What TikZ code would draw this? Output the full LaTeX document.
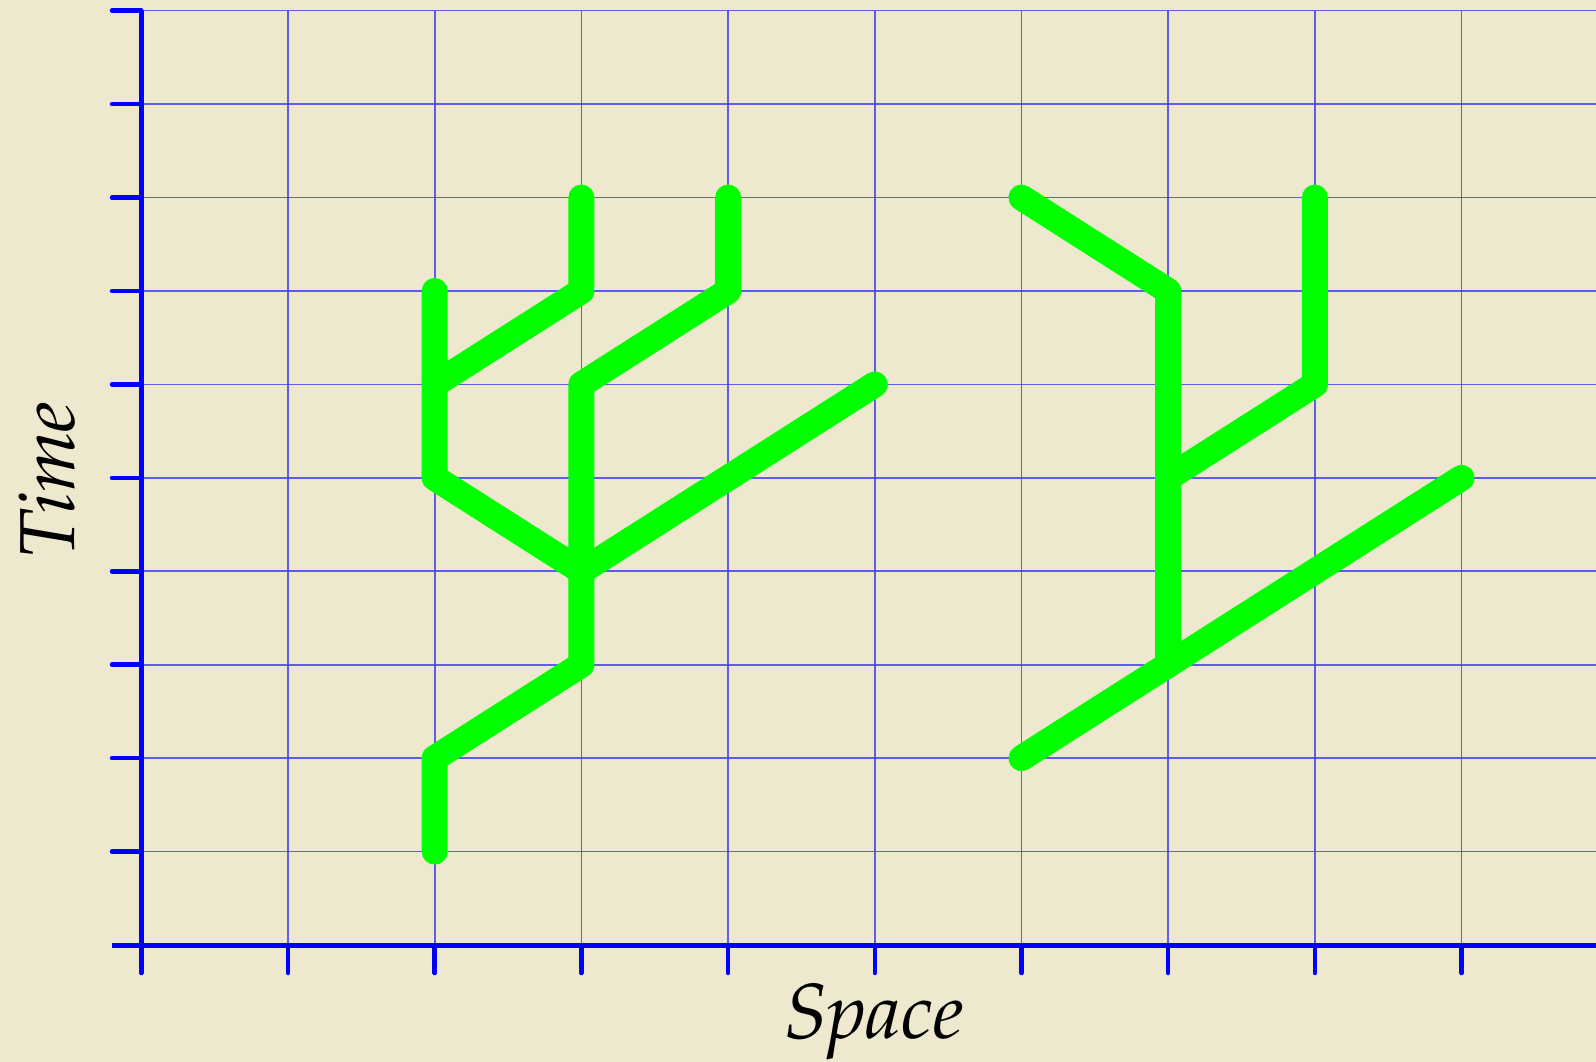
\documentclass[tikz,border=0pt]{standalone}
\usepackage[T1]{fontenc}
\definecolor{bgc}{RGB}{237,232,206}
\definecolor{gridc}{RGB}{70,70,240}
\definecolor{axisc}{RGB}{0,0,255}
\definecolor{pathc}{RGB}{0,255,0}
\tikzset{
  gridline/.style={draw=gridc, line width=1.6pt, opacity=0.85},
  axisline/.style={draw=axisc, line width=5pt},
  tickline/.style={draw=axisc, line width=4.5pt, line cap=round},
  world/.style={draw=pathc, line width=26pt, line cap=round, line join=round},
  axislabel/.style={font=\fontencoding{T1}\fontfamily{ppl}\fontsize{78}{82}\selectfont\itshape, text=black, inner sep=0pt}
}
\newcommand{\GX}[1]{141.3+146.7*#1}
\newcommand{\GY}[1]{945-93.43*#1}
\begin{document}
\begin{tikzpicture}[x=1pt,y=-1pt]
\fill[bgc] (0,0) rectangle (1596,1062);
\useasboundingbox (0,0) rectangle (1596,1062);
% grid
\foreach \c in {1,...,9} \draw[gridline] ({\GX{\c}},10.7) -- ({\GX{\c}},945);
\foreach \r in {1,...,10} \draw[gridline] (141.3,{\GY{\r}}) -- (1596,{\GY{\r}});
% ticks
\foreach \r in {1,...,10} \draw[tickline] (112,{\GY{\r}}) -- (141.3,{\GY{\r}});
\foreach \c in {0,...,9} \draw[tickline] ({\GX{\c}},945) -- ({\GX{\c}},973);
% axes
\draw[axisline] (141.3,945) -- (141.3,10.7);
\draw[axisline] (112,945) -- (1596,945);
% named grid points
\foreach \c in {0,...,9} \foreach \r in {0,...,10} \coordinate (p\c-\r) at ({\GX{\c}},{\GY{\r}});
% left structure
\draw[world] (p2-1) -- (p2-2) -- (p3-3) -- (p3-6) -- (p4-7) -- (p4-8);
\draw[world] (p3-4) -- (p2-5) -- (p2-7);
\draw[world] (p2-6) -- (p3-7) -- (p3-8);
\draw[world] (p3-4) -- (p5-6);
% right structure
\draw[world] (p6-8) -- (p7-7) -- (p7-3);
\draw[world] (p6-2) -- (p9-5);
\draw[world] (p7-5) -- (p8-6) -- (p8-8);
% labels
\node[axislabel, anchor=base] (space) at (874,1038) {Space};
\node[axislabel, anchor=base, rotate=90] (time) at (74,480) {Time};
\end{tikzpicture}
\end{document}
